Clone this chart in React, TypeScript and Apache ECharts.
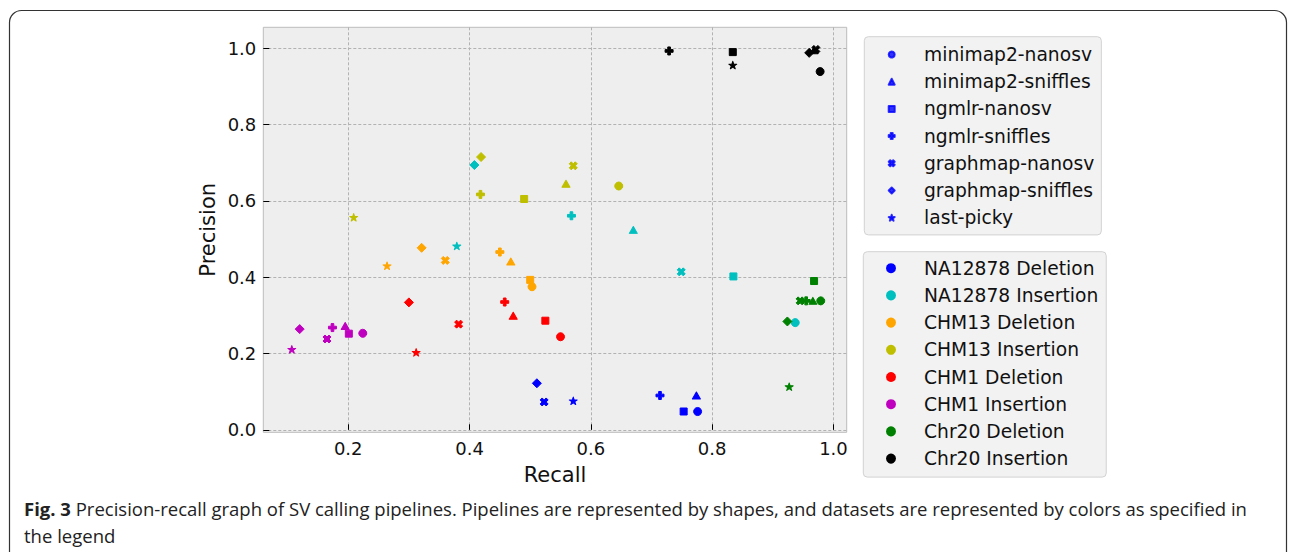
import React, { useEffect, useRef } from 'react';
import * as echarts from 'echarts';

// Pipelines (shapes) and datasets (colours)
const pipelines = [
  'minimap2-nanosv',
  'minimap2-sniffles',
  'ngmlr-nanosv',
  'ngmlr-sniffles',
  'graphmap-nanosv',
  'graphmap-sniffles',
  'last-picky',
];
const datasets = [
  'NA12878 Deletion',
  'NA12878 Insertion',
  'CHM13 Deletion',
  'CHM13 Insertion',
  'CHM1 Deletion',
  'CHM1 Insertion',
  'Chr20 Deletion',
  'Chr20 Insertion',
];

// [recall, precision] for each pipeline, in pipeline order
const na12878Deletion = [[0.776, 0.048], [0.774, 0.09], [0.753, 0.048], [0.714, 0.09], [0.523, 0.073], [0.511, 0.122], [0.571, 0.076]];
const na12878Insertion = [[0.937, 0.281], [0.67, 0.524], [0.835, 0.402], [0.568, 0.561], [0.749, 0.414], [0.408, 0.694], [0.379, 0.482]];
const chm13Deletion = [[0.503, 0.375], [0.468, 0.441], [0.5, 0.393], [0.45, 0.466], [0.36, 0.444], [0.321, 0.477], [0.264, 0.43]];
const chm13Insertion = [[0.646, 0.639], [0.559, 0.645], [0.49, 0.605], [0.418, 0.617], [0.571, 0.692], [0.419, 0.715], [0.209, 0.557]];
const chm1Deletion = [[0.55, 0.244], [0.472, 0.299], [0.525, 0.286], [0.458, 0.335], [0.382, 0.277], [0.3, 0.334], [0.312, 0.203]];
const chm1Insertion = [[0.224, 0.253], [0.195, 0.272], [0.201, 0.252], [0.174, 0.268], [0.165, 0.238], [0.12, 0.264], [0.107, 0.211]];
const chr20Deletion = [[0.979, 0.338], [0.966, 0.338], [0.968, 0.39], [0.955, 0.338], [0.945, 0.338], [0.924, 0.284], [0.927, 0.113]];
const chr20Insertion = [[0.978, 0.939], [0.968, 0.995], [0.834, 0.99], [0.729, 0.993], [0.971, 0.997], [0.96, 0.988], [0.834, 0.956]];

const datasetValues = [
  na12878Deletion,
  na12878Insertion,
  chm13Deletion,
  chm13Insertion,
  chm1Deletion,
  chm1Insertion,
  chr20Deletion,
  chr20Insertion,
];

const xTicks = [0.2, 0.4, 0.6, 0.8, 1.0];
const yTicks = [0.0, 0.2, 0.4, 0.6, 0.8, 1.0];

const captionBold = 'Fig. 3';
const captionLine1 =
  ' Precision-recall graph of SV calling pipelines. Pipelines are represented by shapes, and datasets are represented by colors as specified in';
const captionLine2 = 'the legend';

// Styles
const datasetColors = ['#0000ff', '#00bfbf', '#ffa500', '#bfbf00', '#ff0000', '#bf00bf', '#008000', '#000000'];
const PLUS = 'path://M2,0H4V2H6V4H4V6H2V4H0V2H2Z';
const XMARK = 'path://M3,0L4,1L3,2L4,3L3,4L2,3L1,4L0,3L1,2L0,1L1,0L2,1Z';
const STAR =
  'path://M10,0L12.245,6.91L19.511,6.91L13.633,11.18L15.878,18.09L10,13.82L4.122,18.09L6.367,11.18L0.489,6.91L7.755,6.91Z';
const pipelineSymbols = ['circle', 'triangle', 'rect', PLUS, XMARK, 'diamond', STAR];
const pipelineSizes: any[] = [8, [8, 7], 7, 8, 8, 9, [8, 7.5]];

const FONT = 'DejaVu Sans';

export default function App() {
  const ref = useRef<HTMLDivElement>(null);

  useEffect(() => {
    if (!ref.current) return;
    const chart = echarts.init(ref.current, null, { renderer: 'svg' });

    const datasetSeries = datasets.map((name, di) => ({
      type: 'scatter',
      name,
      itemStyle: {
        color: datasetColors[di],
        opacity: 1,
        borderColor: datasetColors[di],
        borderWidth: 1,
        borderJoin: 'round',
      },
      symbol: 'circle',
      data: datasetValues[di].map((v, pi) => ({
        value: v,
        symbol: pipelineSymbols[pi],
        symbolSize: pipelineSizes[pi],
      })),
      z: 3,
    }));

    const pipelineSeries = pipelines.map((name, pi) => ({
      type: 'scatter',
      name,
      symbol: pipelineSymbols[pi],
      itemStyle: { color: '#0000ff', borderColor: '#0000ff', borderWidth: 1, borderJoin: 'round' },
      data: [],
    }));

    const legendCommon = {
      orient: 'vertical',
      selectedMode: false,
      itemGap: 8.2,
      backgroundColor: '#f2f2f2',
      borderColor: '#d2d2d2',
      borderWidth: 1,
      borderRadius: 4,
      symbolKeepAspect: false,
    };

    chart.setOption({
      animation: false,
      grid: {
        left: 263.3,
        right: 1290 - 846.7,
        top: 27.3,
        bottom: 552 - 432.3,
        show: true,
        backgroundColor: '#eeeeee',
        borderColor: '#bcbcbc',
        borderWidth: 1,
      },
      xAxis: {
        type: 'value',
        min: 0.06,
        max: 1.0218,
        name: 'Recall',
        nameLocation: 'middle',
        nameGap: 32.5,
        nameTextStyle: { fontFamily: FONT, fontSize: 21, color: '#111' },
        axisLine: { show: false },
        axisTick: {
          show: true,
          inside: true,
          length: 5.5,
          customValues: xTicks,
          lineStyle: { color: '#000', width: 1 },
        },
        axisLabel: {
          customValues: xTicks,
          formatter: (v: number) => v.toFixed(1),
          fontFamily: FONT,
          fontSize: 18,
          color: '#111',
          margin: 7,
        },
        splitLine: { show: true, lineStyle: { color: '#b2b2b2', type: [3, 2], width: 1 } },
      },
      yAxis: {
        type: 'value',
        min: -0.0065,
        max: 1.055,
        name: 'Precision',
        nameLocation: 'middle',
        nameGap: 45,
        nameTextStyle: { fontFamily: FONT, fontSize: 21, color: '#111' },
        axisLine: { show: false },
        axisTick: {
          show: true,
          inside: true,
          length: 6,
          customValues: yTicks,
          lineStyle: { color: '#000', width: 1 },
        },
        axisLabel: {
          customValues: yTicks,
          formatter: (v: number) => v.toFixed(1),
          fontFamily: FONT,
          fontSize: 18,
          color: '#111',
          margin: 7,
        },
        splitLine: { show: true, lineStyle: { color: '#b2b2b2', type: [3, 2], width: 1 } },
      },
      legend: [
        {
          ...legendCommon,
          left: 864.3,
          top: 36.7,
          padding: [8.3, 7, 7.7, 23.4],
          itemWidth: 6,
          itemHeight: 6,
          data: pipelines.map((p, i) => ({ name: p, icon: pipelineSymbols[i] })),
          textStyle: { fontFamily: FONT, fontSize: 18.7, lineHeight: 18, color: '#111', padding: [0, 0, 0, 24.3] },
        },
        {
          ...legendCommon,
          left: 863.3,
          top: 251.7,
          padding: [7, 8, 9, 22.7],
          itemWidth: 8,
          itemHeight: 8,
          data: datasets.map((d) => ({ name: d, icon: 'circle' })),
          textStyle: { fontFamily: FONT, fontSize: 18.7, lineHeight: 18, color: '#111', padding: [0, 0, 0, 24] },
        },
      ],
      graphic: [
        {
          type: 'rect',
          shape: { x: 9.5, y: 10.5, width: 1277, height: 620, r: 12 },
          style: { fill: 'none', stroke: '#333', lineWidth: 1.2 },
          silent: true,
        },
        {
          type: 'text',
          x: 24,
          y: 508,
          style: {
            text: '{b|' + captionBold + '}' + captionLine1,
            fontFamily: 'Open Sans',
            fontSize: 18.5,
            fill: '#222',
            verticalAlign: 'middle',
            rich: {
              b: { fontFamily: 'Open Sans', fontSize: 18.5, fontWeight: 'bold', fill: '#222' },
            },
          },
          silent: true,
        },
        {
          type: 'text',
          x: 24,
          y: 535,
          style: {
            text: captionLine2,
            fontFamily: 'Open Sans',
            fontSize: 18.5,
            fill: '#222',
            verticalAlign: 'middle',
          },
          silent: true,
        },
      ],
      series: [...datasetSeries, ...pipelineSeries],
    });

    return () => chart.dispose();
  }, []);

  return (
    <div
      ref={ref}
      style={{ position: 'absolute', left: 0, top: 0, width: 1290, height: 552, background: '#fff' }}
    />
  );
}
